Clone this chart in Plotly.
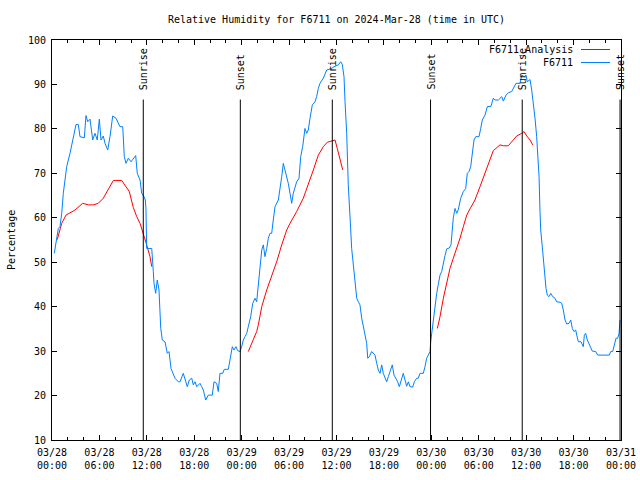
import datetime as dt
import plotly.graph_objects as go

BASE = dt.datetime(2024, 3, 28, 0, 0)

# Observed RH (F6711): hours since 2024-03-28 00:00 UTC and values (%)
obs_hours = [0.29, 0.59, 0.80, 1.01, 1.23, 1.43, 1.86, 2.28, 2.57, 3.04, 3.33, 3.54, 4.09, 4.30, 4.52, 4.81,
             5.15, 5.44, 5.73, 5.99, 6.20, 6.49, 6.71, 7.05, 7.34, 7.68, 8.10, 8.39, 8.60, 8.95, 9.15, 9.36,
             9.66, 10.00, 10.29, 10.59, 10.79, 11.14, 11.35, 11.64, 11.81, 11.89, 11.98, 12.62, 12.82, 12.91,
             13.12, 13.32, 13.54, 13.67, 13.76, 13.96, 14.30, 14.59, 14.81, 15.06, 15.35, 15.56, 15.98, 16.20,
             16.61, 16.92, 17.12, 17.37, 17.68, 17.88, 18.10, 18.31, 18.73, 18.94, 19.15, 19.45, 19.78, 20.28,
             20.50, 20.84, 21.04, 21.26, 21.60, 21.80, 22.31, 22.52, 22.82, 23.03, 23.28, 23.50, 23.79, 24.00,
             24.21, 24.42, 24.64, 24.84, 25.14, 25.40, 25.69, 25.90, 26.11, 26.32, 26.54, 26.74, 26.95, 27.17,
             27.37, 27.59, 27.80, 28.00, 28.22, 28.64, 28.85, 29.07, 29.27, 29.48, 29.70, 29.90, 30.12, 30.33,
             30.53, 30.75, 30.96, 31.26, 31.47, 31.72, 32.01, 32.23, 32.43, 32.65, 32.94, 33.28, 33.49, 33.70,
             33.91, 34.33, 34.76, 35.39, 35.68, 36.23, 36.53, 36.73, 36.95, 37.08, 37.29, 37.49, 37.71, 37.80,
             37.92, 38.13, 38.34, 38.56, 38.76, 38.97, 39.19, 39.39, 39.61, 39.82, 39.95, 40.15, 40.45, 40.87,
             41.09, 41.29, 41.51, 41.72, 41.92, 42.14, 42.35, 42.56, 42.77, 43.06, 43.28, 43.49, 43.74, 43.95,
             44.25, 44.45, 44.67, 44.88, 45.09, 45.30, 45.64, 45.85, 46.15, 46.35, 46.57, 46.98, 47.20, 47.41,
             47.62, 47.83, 47.92, 48.05, 48.25, 48.47, 48.68, 48.88, 49.10, 49.31, 49.52, 49.73, 49.95, 50.27,
             50.49, 50.65, 50.78, 51.00, 51.21, 51.41, 51.63, 51.72, 52.05, 52.35, 52.55, 52.77, 52.98, 53.19,
             53.40, 53.62, 54.03, 54.25, 54.45, 54.79, 55.08, 55.55, 55.84, 56.06, 56.48, 56.91, 57.11, 57.45,
             57.74, 58.17, 58.37, 58.71, 59.22, 59.44, 59.76, 59.98, 60.14, 60.49, 60.70, 60.90, 61.12, 61.33,
             61.46, 61.63, 61.75, 61.84, 62.04, 62.26, 62.38, 62.51, 62.68, 62.89, 63.11, 63.36, 63.65, 63.86,
             64.28, 64.50, 64.70, 64.92, 65.13, 65.42, 65.64, 65.84, 66.05, 66.27, 66.40, 66.60, 66.94, 67.23,
             67.36, 67.53, 67.74, 67.95, 68.17, 68.37, 68.80, 69.05, 70.52, 70.70, 70.95, 71.15, 71.37, 71.58,
             71.75, 71.88]
obs_values = [52.0, 55.0, 57.6, 58.0, 61.0, 65.5, 71.5, 74.5, 77.0, 81.0, 81.0, 78.25, 78.0, 83.0, 81.6, 82.2,
              77.5, 79.0, 77.5, 82.2, 77.5, 78.4, 76.75, 75.25, 78.25, 82.9, 82.4, 81.25, 80.5, 80.5, 73.75, 72.25,
              73.4, 72.6, 73.4, 74.0, 70.0, 68.5, 65.5, 64.75, 64.0, 62.0, 53.1, 53.1, 47.9, 45.25,
              43.0, 46.0, 43.75, 40.0, 35.1, 32.5, 32.1, 29.5, 29.9, 26.1, 25.0, 23.9, 23.1, 23.1,
              25.0, 23.1, 22.0, 23.5, 23.9, 22.4, 23.1, 22.0, 22.75, 22.0, 21.25, 19.0, 20.1, 20.1,
              23.1, 22.75, 20.9, 25.0, 25.0, 25.9, 25.9, 28.0, 31.0, 30.25, 31.0, 30.1, 29.9, 31.0,
              32.5, 33.25, 34.0, 35.5, 37.75, 40.75, 41.9, 41.1, 44.5, 49.0, 52.75, 53.9, 51.25, 53.1,
              55.4, 56.5, 56.5, 59.5, 62.5, 64.0, 66.25, 69.25, 72.25, 70.75, 69.25, 67.75, 65.5, 63.25,
              65.5, 67.0, 68.1, 68.9, 73.75, 76.0, 80.1, 79.0, 79.75, 82.4, 85.4, 86.1, 87.25, 89.1,
              90.25, 91.4, 93.25, 93.6, 94.0, 94.4, 95.1, 94.5, 91.75, 86.1, 79.0, 67.4, 61.75, 57.25,
              53.1, 49.75, 45.25, 41.9, 41.1, 40.4, 37.4, 35.5, 33.6, 31.75, 28.4, 28.75, 29.9, 29.1,
              27.25, 25.75, 25.0, 26.9, 25.0, 23.9, 23.1, 24.25, 25.4, 26.9, 24.6, 23.9, 23.1, 22.0,
              23.9, 25.0, 23.5, 22.1, 23.1, 22.0, 21.9, 23.1, 23.9, 23.9, 25.0, 25.0, 26.5, 28.4,
              29.1, 29.9, 32.1, 34.0, 37.75, 41.0, 43.0, 45.0, 47.1, 47.9, 50.1, 51.5, 53.0, 53.2,
              53.9, 57.6, 60.0, 62.1, 61.0, 61.8, 63.25, 64.4, 65.9, 66.6, 70.0, 70.4, 71.5, 74.9,
              77.5, 78.25, 78.25, 80.1, 82.0, 83.1, 85.0, 85.1, 86.9, 86.5, 86.5, 87.25, 86.25, 87.6,
              88.1, 88.4, 89.1, 90.25, 90.25, 92.1, 91.75, 92.1, 90.6, 91.1, 88.75, 86.1, 82.4, 78.25,
              73.75, 69.25, 61.4, 57.25, 53.5, 49.0, 46.75, 44.1, 42.6, 42.25, 43.0, 42.25, 41.9, 41.1,
              41.0, 40.75, 39.25, 37.0, 36.1, 36.25, 37.0, 35.1, 34.4, 34.75, 33.6, 32.1, 32.1, 31.0,
              33.6, 34.0, 32.5, 31.75, 30.6, 30.0, 29.9, 29.1, 29.1, 29.9, 29.9, 31.75, 32.9, 32.9,
              34.0, 37.0]

# Analysis RH (F6711_Analysis): three daytime segments (None = gap)
ana_hours = [0.67, 1.01, 1.23, 1.77, 2.49, 2.91, 3.88, 4.59, 5.23, 5.86, 6.49, 7.12, 7.76, 8.82, 9.24, 9.78,
             10.29, 10.72, 11.14, 11.55, 11.98, 12.40, 12.62, None,
             24.84, 25.47, 25.90, 26.11, 26.54, 27.17, 27.80, 28.43, 29.07, 29.70, 30.12, 30.53, 30.96, 31.80,
             32.43, 33.07, 33.70, 34.33, 34.84, 35.39, 35.81, 36.10, 36.44, 36.79, None,
             48.76, 49.10, 49.52, 49.95, 50.36, 50.78, 51.21, 51.63, 52.05, 52.48, 52.89, 53.52, 54.16, 54.79,
             55.42, 55.84, 56.69, 57.11, 57.74, 58.37, 58.80, 59.44, 59.73, 60.07, 60.49, 60.83]
ana_values = [55.1, 57.25, 58.75, 60.6, 61.4, 61.75, 63.25, 62.9, 62.9, 63.25, 64.4, 66.25, 68.4, 68.4, 67.4, 65.9,
              62.3, 60.25, 58.75, 56.1, 53.9, 51.25, 49.0, None,
              29.9, 32.5, 34.4, 35.9, 40.0, 43.75, 46.75, 50.1, 53.9, 57.25, 58.75, 59.9, 61.4, 64.4,
              67.4, 70.75, 74.1, 76.0, 77.0, 77.25, 77.5, 75.6, 73.4, 70.75, None,
              35.1, 37.75, 41.9, 45.6, 48.6, 50.9, 53.1, 55.4, 58.0, 60.6, 62.0, 64.0, 67.0, 70.0,
              73.0, 75.1, 76.4, 76.2, 76.2, 77.5, 78.4, 79.0, 79.4, 78.4, 77.5, 76.4]

# Sun events (hours since 2024-03-28 00:00 UTC)
sun_labels = ["Sunrise", "Sunset", "Sunrise", "Sunset", "Sunrise", "Sunset"]
sun_hours = [11.55, 23.83, 35.47, 47.90, 59.50, 71.88]

y_ticks = [10, 20, 30, 40, 50, 60, 70, 80, 90, 100]
x_tick_hours = list(range(0, 73, 6))

FONT = "DejaVu Sans Mono"
L, R, T, B = 52, 621, 40, 440  # plot-area pixel box


def to_time(h):
    return None if h is None else BASE + dt.timedelta(hours=h)


fig = go.Figure()
fig.add_trace(go.Scatter(x=[to_time(h) for h in ana_hours], y=ana_values, mode="lines",
                         name="F6711_Analysis", line=dict(color="#ff0000", width=1),
                         connectgaps=False, showlegend=False, hoverinfo="skip"))
fig.add_trace(go.Scatter(x=[to_time(h) for h in obs_hours], y=obs_values, mode="lines",
                         name="F6711", line=dict(color="#0080ff", width=1), showlegend=False,
                         hoverinfo="skip"))

for lab, h in zip(sun_labels, sun_hours):
    t = to_time(h)
    fig.add_shape(type="line", x0=t, x1=t, y0=10, y1=86.6, xref="x", yref="y",
                  line=dict(color="black", width=1))
    fig.add_annotation(x=t, y=88.3, xref="x", yref="y", text=lab, textangle=-90,
                       showarrow=False, xanchor="center", yanchor="bottom",
                       font=dict(family=FONT, size=10, color="black"))

# legend drawn as in the reference (text right, sample to the right)
leg = [("F6711_Analysis", "#ff0000", 49.5), ("F6711", "#0080ff", 62.5)]
for name, col, ypx in leg:
    yp = 1 - (ypx - T) / (B - T)
    fig.add_annotation(x=(575 - L) / (R - L), y=yp, xref="paper", yref="paper", text=name,
                       showarrow=False, xanchor="right", yanchor="middle",
                       font=dict(family=FONT, size=10, color="black"))
    fig.add_shape(type="line", xref="paper", yref="paper",
                  x0=(581 - L) / (R - L), x1=(610 - L) / (R - L), y0=yp, y1=yp,
                  line=dict(color=col, width=1))

# y-axis title
fig.add_annotation(x=(11 - L) / (R - L), y=0.5, xref="paper", yref="paper", text="Percentage",
                   textangle=-90, showarrow=False, xanchor="center", yanchor="middle",
                   font=dict(family=FONT, size=10, color="black"))

tickvals = [to_time(h) for h in x_tick_hours]
ticktext = [to_time(h).strftime("%m/%d") + "<br>" + to_time(h).strftime("%H:%M") for h in x_tick_hours]

fig.update_layout(
    width=640, height=480,
    margin=dict(l=L, r=640 - R, t=T, b=480 - B, autoexpand=False),
    paper_bgcolor="white", plot_bgcolor="white",
    font=dict(family=FONT, size=10, color="black"),
    title=dict(text="Relative Humidity for F6711 on 2024-Mar-28 (time in UTC)",
               x=(L + R) / 2 / 640, xanchor="center", y=1 - 19 / 480, yanchor="middle",
               font=dict(family=FONT, size=10, color="black")),
    showlegend=False,
    hovermode=False,
)
fig.update_xaxes(range=[to_time(0), to_time(72)], tickvals=tickvals, ticktext=ticktext,
                 ticks="inside", ticklen=5, tickcolor="black", showgrid=False, zeroline=False,
                 showline=True, linecolor="black", linewidth=1, mirror="ticks", automargin=False,
                 ticklabelstandoff=3,
                 minor=dict(dtick=2 * 3600 * 1000, tick0=to_time(0), ticks="inside", ticklen=3,
                            tickcolor="black", showgrid=False),
                 tickfont=dict(family=FONT, size=10, color="black"))
fig.update_yaxes(range=[10, 100], tickvals=y_ticks, ticks="inside", ticklen=5, tickcolor="black",
                 showgrid=False, zeroline=False, showline=True, linecolor="black", linewidth=1,
                 mirror="ticks", automargin=False, ticklabelstandoff=3,
                 tickfont=dict(family=FONT, size=10, color="black"))

fig.write_html("out.html", config={"displayModeBar": False},
               post_script="document.body.style.margin='0';")
